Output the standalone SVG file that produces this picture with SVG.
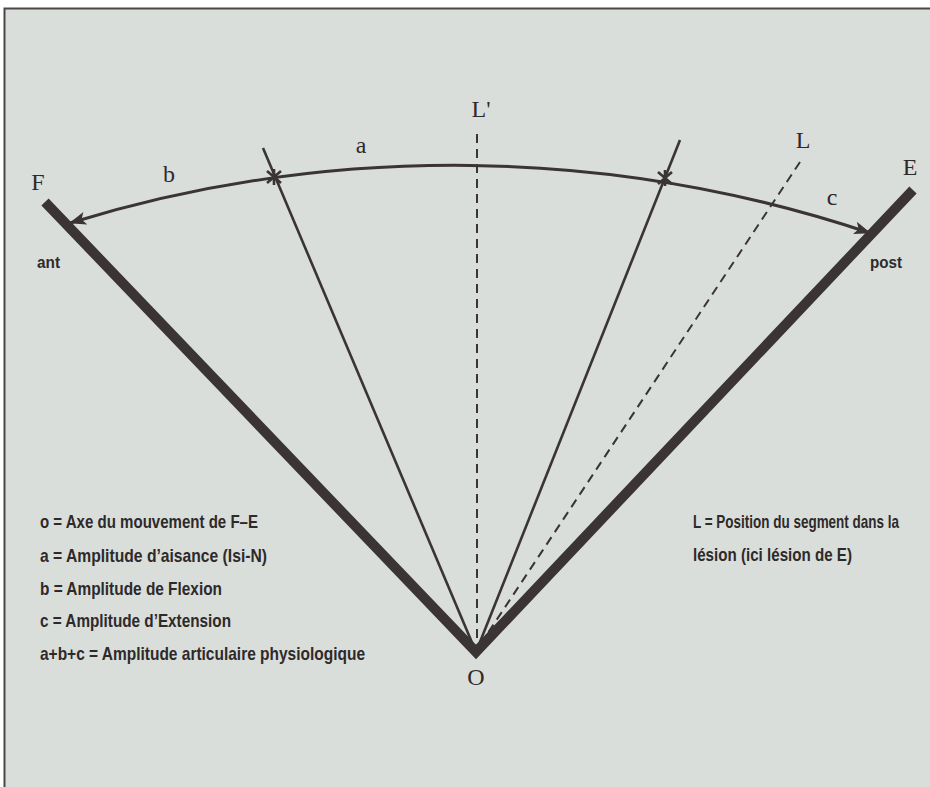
<svg xmlns="http://www.w3.org/2000/svg" width="930" height="787" viewBox="0 0 930 787">
<style>
.bg{fill:#dadedb}
.thick{fill:none;stroke:#3a3434;stroke-width:10;stroke-linejoin:miter;stroke-miterlimit:10}
.thin{fill:none;stroke:#3a3434;stroke-width:2.6}
.dash{fill:none;stroke:#3a3434;stroke-width:2;stroke-dasharray:9 6}
.arc{fill:none;stroke:#3a3434;stroke-width:3}
.ser{font-family:"Liberation Serif","Times New Roman",serif;font-size:24px;fill:#2e2a2a}
.leg{font-family:"Liberation Sans",Arial,sans-serif;font-weight:bold;font-size:18px;fill:#2e2a2a}
.sm{font-family:"Liberation Sans",Arial,sans-serif;font-weight:bold;font-size:16px;fill:#2e2a2a}
</style>
<defs>
<marker id="ah" markerUnits="userSpaceOnUse" markerWidth="18" markerHeight="14" refX="16" refY="6.5" orient="auto-start-reverse">
<path d="M0,0 L17,6.5 L0,13 L4,6.5 z" fill="#3a3434"/>
</marker>
</defs>
<rect x="0" y="0" width="930" height="787" fill="#ffffff"/>
<rect class="bg" x="4" y="8" width="926" height="779"/>
<path d="M4.5,787 V8.5 H930" fill="none" stroke="#4a4646" stroke-width="2"/>
<g id="connectors">
<path id="arc-bac" class="arc" d="M70,223 A1310,1310 0 0 1 870,233" marker-start="url(#ah)" marker-end="url(#ah)"/>
<line class="thin" x1="263" y1="148" x2="476" y2="652"/>
<line class="thin" x1="680" y1="140" x2="476" y2="652"/>
<line class="dash" x1="477" y1="134" x2="477" y2="648"/>
<line class="dash" x1="800" y1="162" x2="478" y2="648"/>
<path d="M267,171 L281,183 M267,183 L281,171 M274,169 L274,185" class="thin" stroke-width="1.8"/>
<path d="M658,172 L672,184 M658,184 L672,172 M665,170 L665,186" class="thin" stroke-width="1.8"/>
</g>
<g id="node-F-E">
<polyline class="thick" points="45,202 476,652 913,190"/>
</g>
<g id="labels">
<text class="ser" x="38" y="190" text-anchor="middle">F</text>
<text class="ser" x="910" y="175" text-anchor="middle">E</text>
<text class="ser" x="169" y="182" text-anchor="middle">b</text>
<text class="ser" x="361" y="153" text-anchor="middle">a</text>
<text class="ser" x="832" y="205" text-anchor="middle">c</text>
<text class="ser" x="481" y="117" text-anchor="middle">L'</text>
<text class="ser" x="803" y="148" text-anchor="middle">L</text>
<text class="ser" x="476" y="685" text-anchor="middle" font-size="25">O</text>
<text class="sm" transform="scale(0.8,1)" x="46.25" y="268" textLength="28.75" lengthAdjust="spacingAndGlyphs">ant</text>
<text class="sm" transform="scale(0.8,1)" x="1087.5" y="268" textLength="40" lengthAdjust="spacingAndGlyphs">post</text>
</g>
<g id="legend" transform="scale(0.8,1)">
<text class="leg" x="50" y="528" textLength="272.5" lengthAdjust="spacingAndGlyphs">o = Axe du mouvement de F–E</text>
<text class="leg" x="50" y="562" textLength="283.75" lengthAdjust="spacingAndGlyphs">a = Amplitude d’aisance (Isi-N)</text>
<text class="leg" x="50" y="595" textLength="227.5" lengthAdjust="spacingAndGlyphs">b = Amplitude de Flexion</text>
<text class="leg" x="50" y="627" textLength="238.75" lengthAdjust="spacingAndGlyphs">c = Amplitude d’Extension</text>
<text class="leg" x="50" y="660" textLength="406.25" lengthAdjust="spacingAndGlyphs">a+b+c = Amplitude articulaire physiologique</text>
<text class="leg" x="866.25" y="528" textLength="257.5" lengthAdjust="spacingAndGlyphs">L = Position du segment dans la</text>
<text class="leg" x="866.25" y="561" textLength="198.75" lengthAdjust="spacingAndGlyphs">lésion (ici lésion de E)</text>
</g>
</svg>
